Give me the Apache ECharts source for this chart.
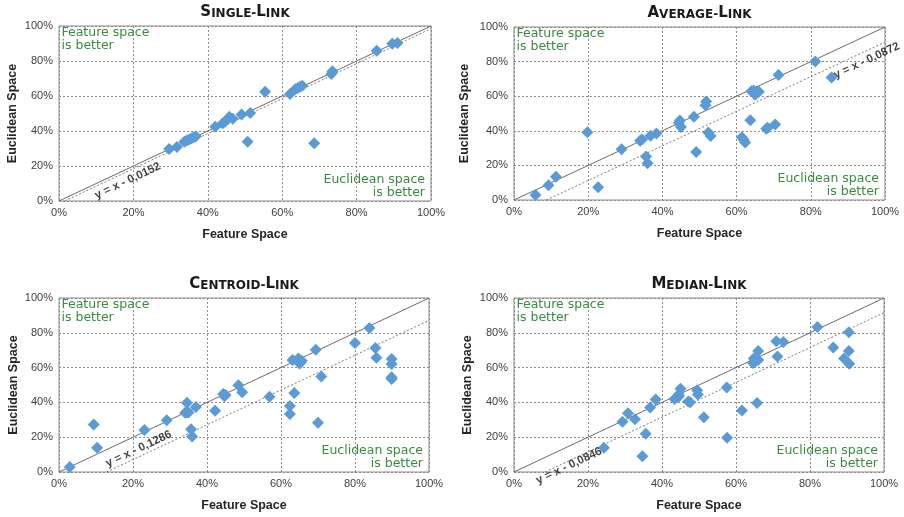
<!DOCTYPE html>
<html><head><meta charset="utf-8">
<script src="https://cdn.jsdelivr.net/npm/echarts@6/dist/echarts.min.js"></script>
<style>html,body{margin:0;padding:0;background:#fff}#c{width:904px;height:517px}</style>
</head><body><div id="c"></div><script>
// ---------- data ----------
const titles = ['Single-Link', 'Average-Link', 'Centroid-Link', 'Median-Link'];
const xAxisName = 'Feature Space';
const yAxisName = 'Euclidean Space';
const noteTop = 'Feature space\nis better';
const noteBottom = 'Euclidean space\nis better';
const offsets = [0.0152, 0.0872, 0.1286, 0.0846];   // y = x - offset
const tickValues = [0, 20, 40, 60, 80, 100];

const singleLink = [[29.6,29.7],[31.7,30.8],[33.7,33.9],[34.4,34.6],[35.0,35.2],[35.6,35.7],[36.2,36.4],[36.8,37.0],
  [42.0,42.4],[44.0,44.4],[44.6,45.3],[45.8,48.2],[46.7,47.0],[49.1,49.5],[51.4,50.3],[50.7,33.8],[55.4,62.5],
  [62.1,61.2],[63.5,63.8],[64.2,64.6],[64.8,65.3],[65.4,65.9],[68.6,33.0],[73.2,72.6],[73.5,74.2],[85.4,85.8],
  [89.6,89.8],[91.0,90.3]];
const averageLink = [[5.8,2.9],[9.3,8.5],[11.3,13.5],[19.8,39.1],[22.7,7.4],[29.0,29.3],[34.0,34.3],[34.5,34.9],
  [35.6,25.2],[36.0,21.2],[36.8,37.1],[38.4,38.5],[44.4,44.5],[44.7,45.9],[45.0,42.2],[48.5,48.1],[49.1,27.7],
  [51.6,54.8],[51.8,57.0],[52.4,39.0],[53.0,37.0],[61.4,36.2],[61.9,34.8],[62.3,33.2],[63.7,46.1],[64.0,62.8],
  [64.6,63.3],[65.3,62.5],[65.0,60.8],[66.0,62.6],[68.0,41.2],[68.4,41.7],[70.4,43.6],[71.3,72.3],[81.2,80.1],[85.6,70.8]];
const centroidLink = [[2.9,2.9],[9.4,27.3],[10.3,13.9],[23.1,24.2],[29.1,29.8],[34.1,34.0],[34.6,34.4],[35.0,34.2],
  [34.6,39.8],[35.7,24.5],[36.0,20.4],[37.0,37.3],[42.2,35.2],[44.4,44.8],[44.7,43.6],[45.0,44.2],[48.5,49.8],
  [49.5,45.8],[56.9,43.2],[62.4,37.9],[62.4,33.3],[63.1,64.4],[63.6,45.4],[64.7,65.3],[65.0,62.3],[65.6,63.9],
  [65.3,62.9],[69.4,70.2],[70.0,28.3],[70.9,54.9],[80.0,74.2],[83.9,82.8],[85.5,71.3],[85.8,65.7],[89.9,64.9],
  [89.9,62.0],[89.9,54.5],[89.9,53.4]];
const medianLink = [[24.3,13.9],[29.3,28.9],[30.8,33.8],[32.7,30.3],[35.6,22.0],[34.7,9.1],[36.8,37.0],[38.3,41.7],
  [43.4,42.0],[44.0,43.0],[44.5,44.5],[45.0,47.9],[44.6,43.5],[47.1,40.5],[47.6,40.1],[49.5,47.0],[49.7,44.6],
  [51.3,31.4],[57.5,48.6],[57.6,19.7],[61.6,35.4],[64.6,62.6],[64.8,65.2],[65.4,63.8],[66.0,64.3],[65.2,64.0],
  [65.7,39.6],[66.0,69.6],[70.9,75.1],[71.2,66.4],[72.8,74.7],[82.0,83.4],[86.3,71.6],[89.2,65.2],[90.5,80.3],
  [90.5,69.5],[90.6,62.2]];
const panels = [singleLink, averageLink, centroidLink, medianLink];

// ---------- layout / style ----------
const grids = [
  {left: 59, top: 26, width: 372, height: 175},
  {left: 514, top: 27, width: 371, height: 173},
  {left: 59, top: 298, width: 370, height: 174},
  {left: 514, top: 298, width: 370, height: 174}
];
const yNameGap = [40, 43, 39, 40];
const xNameGap = [27, 27, 27, 27];
const labelAnchorX = [16.5, 93.0, 23.2, 13.8];   // where the equation label sits along the dotted line
const labelShift = [9.5, 10, -8, 5];              // px perpendicular to the line (positive = below)
const GREEN = '#3a8a3f';
const BLUE = '#5b9bd5';
const TXT = 'Liberation Sans, Arial, sans-serif';

function smallCaps(s) {
  let out = '';
  for (const ch of s) {
    if (ch >= 'a' && ch <= 'z') out += '{b|' + ch.toUpperCase() + '}';
    else if (ch >= 'A' && ch <= 'Z') out += '{a|' + ch + '}';
    else out += '{b|' + ch + '}';
  }
  return out;
}

const option = {
  animation: false,
  backgroundColor: '#fff',
  grid: [], xAxis: [], yAxis: [], series: [], graphic: []
};

grids.forEach((g, i) => {
  option.grid.push(Object.assign({show: true, borderColor: '#8a8a8a', borderWidth: 1, containLabel: false}, g));
  const axisCommon = {
    gridIndex: i, type: 'value', min: 0, max: 100, interval: 20,
    axisLine: {show: false}, axisTick: {show: false},
    axisLabel: {formatter: '{value}%', fontSize: 11, color: '#404040', fontFamily: TXT},
    splitLine: {show: true, lineStyle: {color: '#8c8c8c', type: [2, 2], width: 1}},
    nameLocation: 'middle',
    nameTextStyle: {fontSize: 12.5, fontWeight: 'bold', color: '#262626', fontFamily: TXT}
  };
  option.xAxis.push(Object.assign({}, axisCommon, {name: xAxisName, nameGap: xNameGap[i],
    axisLabel: Object.assign({}, axisCommon.axisLabel, {margin: 6})}));
  option.yAxis.push(Object.assign({}, axisCommon, {name: yAxisName, nameGap: yNameGap[i],
    axisLabel: Object.assign({}, axisCommon.axisLabel, {margin: 6})}));

  const c = offsets[i] * 100;
  // y = x
  option.series.push({type: 'line', xAxisIndex: i, yAxisIndex: i, symbol: 'none', silent: true, z: 1,
    lineStyle: {color: '#6a6a6a', width: 1}, data: [[0, 0], [100, 100]]});
  // y = x - c
  option.series.push({type: 'line', xAxisIndex: i, yAxisIndex: i, symbol: 'none', silent: true, z: 1,
    lineStyle: {color: '#7a7a7a', width: 1, type: [2, 2]}, data: [[c, 0], [100, 100 - c]]});
  // points
  option.series.push({type: 'scatter', xAxisIndex: i, yAxisIndex: i, symbol: 'diamond', symbolSize: 12, z: 3,
    itemStyle: {color: BLUE, opacity: 1}, data: panels[i]});
  // equation label
  const ang = Math.atan(g.height / g.width);
  const s = labelShift[i];
  option.series.push({type: 'scatter', xAxisIndex: i, yAxisIndex: i, symbolSize: 1, z: 4, clip: false, silent: true,
    itemStyle: {color: 'rgba(0,0,0,0)'},
    label: {show: true, position: 'inside', rotate: ang * 180 / Math.PI,
      offset: [s * Math.sin(ang), s * Math.cos(ang)],
      formatter: 'y = x - ' + offsets[i].toFixed(4).replace('.', ','),
      fontSize: 11.5, fontWeight: 'bold', color: '#111', fontFamily: TXT},
    data: [[labelAnchorX[i], labelAnchorX[i] - c]]});

  // title
  option.graphic.push({type: 'text', x: g.left + g.width / 2, y: g.top - 14, z: 10,
    style: {text: smallCaps(titles[i]), align: 'center', verticalAlign: 'middle', fill: '#1a1a1a',
      rich: {a: {fontSize: 15, fontWeight: 'bold', fontFamily: 'DejaVu Sans', verticalAlign: 'bottom', fill: '#1a1a1a'},
             b: {fontSize: 12, fontWeight: 'bold', fontFamily: 'DejaVu Sans', verticalAlign: 'bottom', fill: '#1a1a1a'}}}});
  // notes
  option.graphic.push({type: 'text', x: g.left + 2.5, y: g.top + 0.5, z: 10,
    style: {text: noteTop, align: 'left', verticalAlign: 'top', fill: GREEN,
      fontSize: 12.5, fontFamily: 'DejaVu Sans', lineHeight: 13}});
  option.graphic.push({type: 'text', x: g.left + g.width - 6, y: g.top + g.height - 1.5, z: 10,
    style: {text: noteBottom, align: 'right', verticalAlign: 'bottom', fill: GREEN,
      fontSize: 12.5, fontFamily: 'DejaVu Sans', lineHeight: 13}});
});

const chart = echarts.init(document.getElementById('c'), null, {renderer: 'canvas'});
chart.setOption(option);
</script></body></html>
